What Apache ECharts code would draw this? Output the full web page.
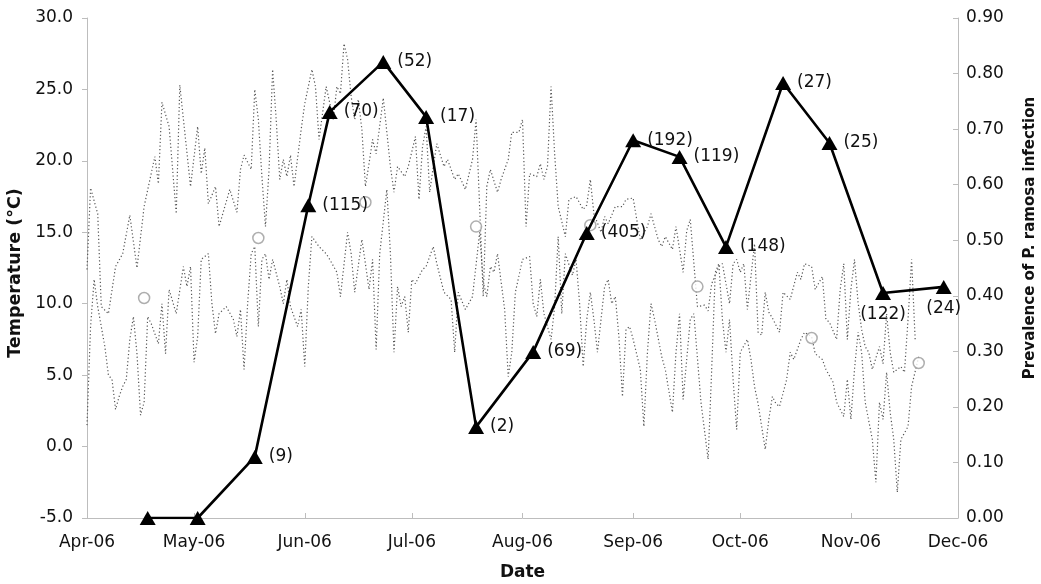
<!DOCTYPE html>
<html>
<head>
<meta charset="utf-8">
<script src="https://cdn.jsdelivr.net/npm/echarts@6/dist/echarts.min.js"></script>
<style>
  html, body { margin: 0; padding: 0; background: #fff; }
  #chart { width: 1041px; height: 584px; }
</style>
</head>
<body>
<div id="chart"></div>
<script>
// daily max temperature, [days after 1 Apr 2006, degC]
const tMax = [
  [0,12.4],[1,18.1],[3,16.3],[4,9.8],[6,9.3],[8,12.6],[10,13.5],[12,16.2],[14,12.5],[16,16.8],
  [19,20.3],[20,18.4],[21,24.1],[23,22.4],[25,16.3],[26,25.3],[29,18.2],[31,22.4],[32,19.1],[33,20.9],
  [34,17.0],[36,18.2],[37,15.4],[40,18.0],[42,16.4],[43,19.4],[44,20.4],[46,19.4],[47,25.0],[48,22.9],
  [49,18.9],[50,15.4],[51,19.4],[52,26.4],[53,22.9],[54,18.7],[55,20.1],[56,18.9],[57,20.4],[58,18.2],
  [60,22.2],[61,24.0],[63,26.4],[64,25.2],[65,21.5],[67,25.2],[69,22.9],[70,25.2],[71,24.7],[72,28.2],
  [73,27.1],[74,24.5],[75,22.9],[76,24.3],[77,22.2],[78,18.2],[79,19.8],[80,21.5],[81,20.5],[83,24.4],
  [84,22.0],[85,19.6],[86,17.8],[87,19.6],[89,18.9],[90,19.6],[92,21.7],[93,17.3],[94,21.0],[95,22.4],
  [96,17.8],[97,19.6],[98,21.2],[100,19.6],[101,20.1],[103,18.7],[104,19.1],[106,18.0],[108,20.1],[109,22.9],
  [111,10.5],[112,18.2],[113,19.4],[115,17.8],[116,18.7],[118,20.1],[119,22.0],[121,22.0],[122,22.9],[123,15.4],
  [124,19.1],[126,18.9],[127,19.8],[128,18.7],[129,19.6],[130,25.2],[131,20.5],[132,16.8],[134,14.7],[135,17.3],
  [137,17.5],[139,16.6],[140,16.9],[141,18.7],[142,16.3],[144,15.0],[145,16.1],[146,15.6],[148,16.8],[150,16.8],
  [151,17.3],[153,17.4],[154,15.9],[155,14.5],[157,15.4],[158,16.3],[160,14.5],[161,14.0],[162,14.7],[164,13.8],
  [165,15.4],[167,12.2],[168,15.1],[169,15.9],[171,9.8],[173,9.9],[174,9.5],[175,11.4],[177,12.6],[178,12.8],
  [180,10.0],[181,12.8],[182,13.1],[183,12.2],[184,12.8],[185,9.6],[187,14.2],[188,8.0],[189,7.8],[190,10.8],
  [191,9.4],[192,9.0],[194,8.0],[195,10.8],[197,10.3],[199,12.2],[200,11.7],[201,12.8],[203,12.6],[204,11.0],
  [206,11.9],[207,8.9],[208,8.7],[210,7.5],[211,11.0],[212,12.8],[213,7.5],[214,11.0],[215,13.1],[216,10.1],
  [217,8.2],[218,7.0],[219,6.6],[220,5.4],[222,7.0],[223,5.8],[224,9.3],[225,6.6],[226,5.2],[227,5.4],
  [228,5.6],[229,5.2],[230,8.9],[231,13.1],[232,7.5]
];

// daily min temperature, [days after 1 Apr 2006, degC]
const tMin = [
  [0,1.5],[1,8.4],[2,11.7],[3,9.8],[5,7.0],[6,5.0],[7,4.7],[8,2.6],[9,3.5],[10,4.2],
  [11,4.7],[12,7.5],[13,9.1],[14,6.5],[15,2.2],[16,3.1],[17,9.1],[18,8.6],[20,7.2],[21,10.0],
  [22,6.5],[23,11.0],[25,9.3],[27,12.6],[28,11.2],[29,12.6],[30,5.9],[31,7.7],[32,13.1],[34,13.5],
  [35,10.0],[36,7.9],[37,9.3],[39,9.8],[41,8.9],[42,7.7],[43,9.6],[44,5.4],[45,10.0],[46,13.5],
  [47,14.0],[48,8.4],[49,13.1],[50,13.5],[51,11.7],[52,13.1],[54,11.2],[55,10.0],[56,11.7],[57,9.8],
  [59,8.4],[60,9.6],[61,5.6],[62,11.2],[63,14.7],[65,14.0],[67,13.5],[68,13.1],[70,12.2],[71,10.5],
  [73,15.0],[74,13.5],[75,10.8],[77,14.5],[78,12.8],[79,11.0],[80,13.1],[81,6.8],[82,13.5],[84,18.0],
  [85,13.5],[86,6.6],[87,11.2],[88,9.8],[89,10.5],[90,8.0],[91,11.7],[92,11.4],[94,12.4],[95,12.6],
  [97,14.0],[98,12.8],[100,10.8],[102,10.3],[103,6.6],[104,10.8],[106,9.6],[108,10.5],[110,15.0],[111,11.5],
  [112,10.5],[113,12.6],[114,12.2],[115,13.5],[117,9.6],[118,4.9],[119,6.6],[120,10.8],[122,13.1],[124,13.3],
  [125,10.0],[126,9.1],[127,11.7],[128,9.3],[130,7.5],[131,9.8],[132,14.7],[133,9.3],[134,13.5],[136,12.0],
  [137,13.1],[138,10.0],[139,5.6],[140,8.9],[141,10.8],[142,8.9],[143,6.6],[145,11.2],[146,11.7],[147,10.0],
  [148,10.5],[149,7.7],[150,3.5],[151,8.2],[152,8.4],[153,7.5],[155,5.4],[156,1.4],[157,6.6],[158,10.0],
  [159,8.9],[161,6.3],[162,5.4],[164,2.4],[165,6.6],[166,9.3],[167,3.3],[169,8.9],[170,9.3],[172,3.1],
  [174,-0.9],[175,5.4],[176,12.2],[177,12.8],[178,8.9],[179,6.6],[180,8.9],[181,4.7],[182,1.2],[183,6.6],
  [185,7.5],[186,6.1],[187,4.2],[188,3.0],[190,-0.2],[191,1.9],[192,3.5],[193,3.0],[194,2.8],[196,4.7],
  [197,6.6],[198,6.1],[200,7.5],[201,8.0],[203,7.7],[204,6.5],[206,6.1],[207,5.4],[209,4.5],[210,3.1],
  [212,2.1],[213,4.7],[214,1.9],[215,5.4],[216,8.0],[217,6.6],[218,3.1],[220,0.5],[221,-2.5],[222,3.1],
  [223,1.9],[224,5.2],[225,2.4],[226,0.5],[227,-3.2],[228,0.5],[230,1.4],[231,4.2],[233,6.3]
];

// mean temperature at sampling (open circles)
const meanDates = ['2006-04-17','2006-05-19','2006-06-18','2006-07-19','2006-08-20','2006-09-19','2006-10-21','2006-11-20'];
const meanTemp = [10.4, 14.6, 17.1, 15.4, 15.5, 11.2, 7.6, 5.85];

// prevalence of infection with sample size
const prevDates = ['2006-04-18','2006-05-02','2006-05-18','2006-06-02','2006-06-08','2006-06-23','2006-07-05','2006-07-19',
  '2006-08-04','2006-08-19','2006-09-01','2006-09-14','2006-09-27','2006-10-13','2006-10-26','2006-11-10','2006-11-27'];
const prevalence = [0, 0, 0.11, 0.563, 0.731, 0.821, 0.722, 0.164, 0.299, 0.513, 0.680, 0.650, 0.488, 0.783, 0.675, 0.405, 0.416];
const sampleN = [null, null, 9, 115, 70, 52, 17, 2, 69, 405, 192, 119, 148, 27, 25, 122, 24];

const monthNames = ['Jan','Feb','Mar','Apr','May','Jun','Jul','Aug','Sep','Oct','Nov','Dec'];

// one category per day, 1 Apr to 1 Dec 2006
const days = [];
const t0 = Date.UTC(2006, 3, 1);
for (let i = 0; i <= 244; i++) {
  days.push(new Date(t0 + i * 86400000).toISOString().slice(0, 10));
}
const isMonthStart = (idx, val) => val.slice(8) === '01';

const font = 'DejaVu Sans';
const txt = '#111';
const axisGrey = '#bdbdbd';

const prevData = prevalence.map((v, i) => {
  const item = { value: [prevDates[i], v] };
  if (sampleN[i] == null) {
    item.label = { show: false };
  } else if (i === 15) {
    item.label = { position: 'bottom', offset: [-3, 2] };
  } else if (i === 16) {
    item.label = { position: 'bottom', offset: [-6, 2] };
  }
  return item;
});

const chart = echarts.init(document.getElementById('chart'));
chart.setOption({
  animation: false,
  textStyle: { fontFamily: font },
  grid: { left: 87, right: 83, top: 18, bottom: 66, outerBoundsMode: 'none', containLabel: false },
  xAxis: {
    type: 'category',
    data: days,
    boundaryGap: false,
    name: 'Date',
    nameLocation: 'middle',
    nameGap: 46,
    nameTextStyle: { fontFamily: font, fontWeight: 'bold', fontSize: 17, color: txt },
    axisLine: { onZero: false, lineStyle: { color: axisGrey, width: 1 } },
    axisTick: { inside: true, length: 5, interval: isMonthStart, lineStyle: { color: axisGrey } },
    axisLabel: {
      interval: isMonthStart,
      margin: 16,
      fontSize: 17,
      color: txt,
      fontFamily: font,
      formatter: (v) => monthNames[+v.slice(5, 7) - 1] + '-' + v.slice(2, 4)
    },
    splitLine: { show: false }
  },
  yAxis: [
    {
      type: 'value',
      min: -5,
      max: 30,
      interval: 5,
      name: 'Temperature (°C)',
      nameLocation: 'middle',
      nameGap: 54,
      nameRotate: 90,
      nameTextStyle: { fontFamily: font, fontWeight: 'bold', fontSize: 17.5, color: txt, padding: [0, 10, 0, 0] },
      axisLine: { show: true, lineStyle: { color: axisGrey } },
      axisTick: { show: true, length: 5, lineStyle: { color: axisGrey } },
      axisLabel: { margin: 14, fontSize: 17, color: txt, fontFamily: font, formatter: (v) => v.toFixed(1) },
      splitLine: { show: false }
    },
    {
      type: 'value',
      position: 'right',
      min: 0,
      max: 0.9,
      interval: 0.1,
      name: 'Prevalence of P. ramosa infection',
      nameLocation: 'middle',
      nameGap: 65,
      nameRotate: 90,
      nameTextStyle: { fontFamily: font, fontWeight: 'bold', fontSize: 15, color: txt, padding: [0, 0, 0, 60] },
      axisLine: { show: true, lineStyle: { color: axisGrey } },
      axisTick: { show: true, inside: true, length: 5, lineStyle: { color: axisGrey } },
      axisLabel: { margin: 8, fontSize: 17, color: txt, fontFamily: font, formatter: (v) => v.toFixed(2) },
      splitLine: { show: false }
    }
  ],
  series: [
    {
      name: 'Max',
      type: 'line',
      yAxisIndex: 0,
      data: tMax.map((p) => [days[p[0]], p[1]]),
      showSymbol: false,
      lineStyle: { color: '#555', width: 1.2, type: [1.2, 2.4] },
      z: 1
    },
    {
      name: 'Min',
      type: 'line',
      yAxisIndex: 0,
      data: tMin.map((p) => [days[p[0]], p[1]]),
      showSymbol: false,
      lineStyle: { color: '#555', width: 1.2, type: [1.2, 2.4] },
      z: 1
    },
    {
      name: 'Mean',
      type: 'scatter',
      yAxisIndex: 0,
      data: meanTemp.map((v, i) => [meanDates[i], v]),
      symbol: 'circle',
      symbolSize: 11,
      itemStyle: { color: '#fff', borderColor: '#9a9a9a', borderWidth: 1.5 },
      z: 2
    },
    {
      name: 'Prevalence',
      type: 'line',
      yAxisIndex: 1,
      data: prevData,
      showAllSymbol: true,
      symbol: 'triangle',
      symbolSize: [16, 14],
      itemStyle: { color: '#000' },
      lineStyle: { color: '#000', width: 2.6 },
      label: {
        show: true,
        position: 'right',
        distance: 6,
        fontSize: 17,
        color: txt,
        fontFamily: font,
        formatter: (p) => '(' + sampleN[p.dataIndex] + ')'
      },
      labelLayout: { hideOverlap: false },
      z: 5
    }
  ]
});
</script>
</body>
</html>
